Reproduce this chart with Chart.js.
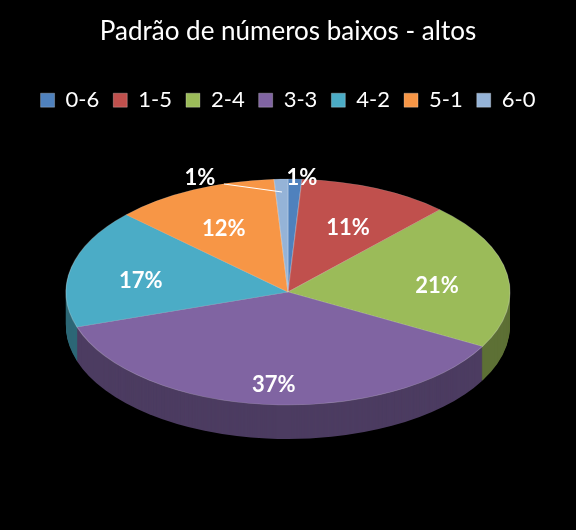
<!DOCTYPE html>
<html>
<head>
<meta charset="utf-8">
<script src="https://cdn.jsdelivr.net/npm/chart.js@4"></script>
<style>
  html, body { margin: 0; padding: 0; background: #000; }
  #wrap { width: 576px; height: 530px; }
</style>
</head>
<body>
<div id="wrap"><canvas id="pieChart"></canvas></div>
<script>
// data
const categories = ['0-6', '1-5', '2-4', '3-3', '4-2', '5-1', '6-0'];
const shares = [1, 11, 21, 37, 17, 12, 1];
const sliceColors = ['#4f81bd', '#c0504d', '#9bbb59', '#8064a2', '#4bacc6', '#f79646', '#95b3d7'];
const sideColors = ['#2f4d71', '#73302e', '#5d7035', '#4c3c61', '#2d6776', '#945a2a', '#597081'];

// ellipse geometry on screen
const centerX = 288, centerY = 292, radiusX = 222, radiusY = 113, depth = 34;

function squash(chart) {
    const meta = chart.getDatasetMeta(0);
    const arc = meta.data[0];
    return { x0: arc.x, y0: arc.y, sx: radiusX / arc.outerRadius, sy: radiusY / arc.outerRadius };
}

const pie3d = {
    id: 'pie3d',
    beforeDatasetsDraw(chart) {
        const ctx = chart.ctx;
        const t = squash(chart);
        const arcs = chart.getDatasetMeta(0).data;
        // side walls
        for (let d = depth; d >= 1; d--) {
            ctx.save();
            ctx.translate(centerX, centerY + d);
            ctx.scale(t.sx, t.sy);
            ctx.translate(-t.x0, -t.y0);
            arcs.forEach((el, i) => {
                const o = el.options;
                const bg = o.backgroundColor, bw = o.borderWidth;
                o.backgroundColor = sideColors[i];
                o.borderWidth = 0;
                el.draw(ctx, chart.chartArea);
                o.backgroundColor = bg;
                o.borderWidth = bw;
            });
            ctx.restore();
        }
        // top face
        ctx.save();
        ctx.translate(centerX, centerY);
        ctx.scale(t.sx, t.sy);
        ctx.translate(-t.x0, -t.y0);
    },
    afterDatasetsDraw(chart) {
        const ctx = chart.ctx;
        ctx.restore();
        const arcs = chart.getDatasetMeta(0).data;
        ctx.save();
        ctx.fillStyle = '#fff';
        ctx.font = 'bold 22px Lato, "Open Sans", sans-serif';
        ctx.textAlign = 'center';
        ctx.textBaseline = 'middle';
        arcs.forEach((el, i) => {
            const mid = (el.startAngle + el.endAngle) / 2;
            const f = 0.68;
            let lx = centerX + Math.cos(mid) * radiusX * f;
            let ly = centerY + Math.sin(mid) * radiusY * f + 6;
            if (i === 3) ly += 10;
            if (shares[i] < 3) {
                ly = 178;
                if (i === 0) {
                    lx = 302;
                } else {
                    lx = 200;
                    ctx.strokeStyle = '#fff';
                    ctx.lineWidth = 1;
                    ctx.beginPath();
                    ctx.moveTo(224, 184);
                    ctx.lineTo(282, 192);
                    ctx.stroke();
                }
            }
            ctx.fillText(shares[i] + '%', lx, ly);
        });
        ctx.restore();
    }
};

new Chart(document.getElementById('pieChart'), {
    type: 'pie',
    data: {
        labels: categories,
        datasets: [{
            data: shares,
            backgroundColor: sliceColors,
            borderColor: 'rgba(255,255,255,0.25)',
            borderWidth: 1
        }]
    },
    options: {
        responsive: true,
        maintainAspectRatio: false,
        animation: false,
        layout: { padding: { top: 10, bottom: 10 } },
        plugins: {
            title: {
                display: true,
                text: 'Padrão de números baixos - altos',
                color: '#fff',
                font: { family: 'Lato, "Open Sans", sans-serif', size: 26, weight: 'normal' },
                padding: { top: 6, bottom: 28 }
            },
            legend: {
                position: 'top',
                labels: {
                    color: '#fff',
                    boxWidth: 14,
                    boxHeight: 14,
                    padding: 14,
                    font: { family: 'Lato, "Open Sans", sans-serif', size: 22 }
                }
            },
            tooltip: { enabled: false }
        }
    },
    plugins: [pie3d]
});
</script>
</body>
</html>
